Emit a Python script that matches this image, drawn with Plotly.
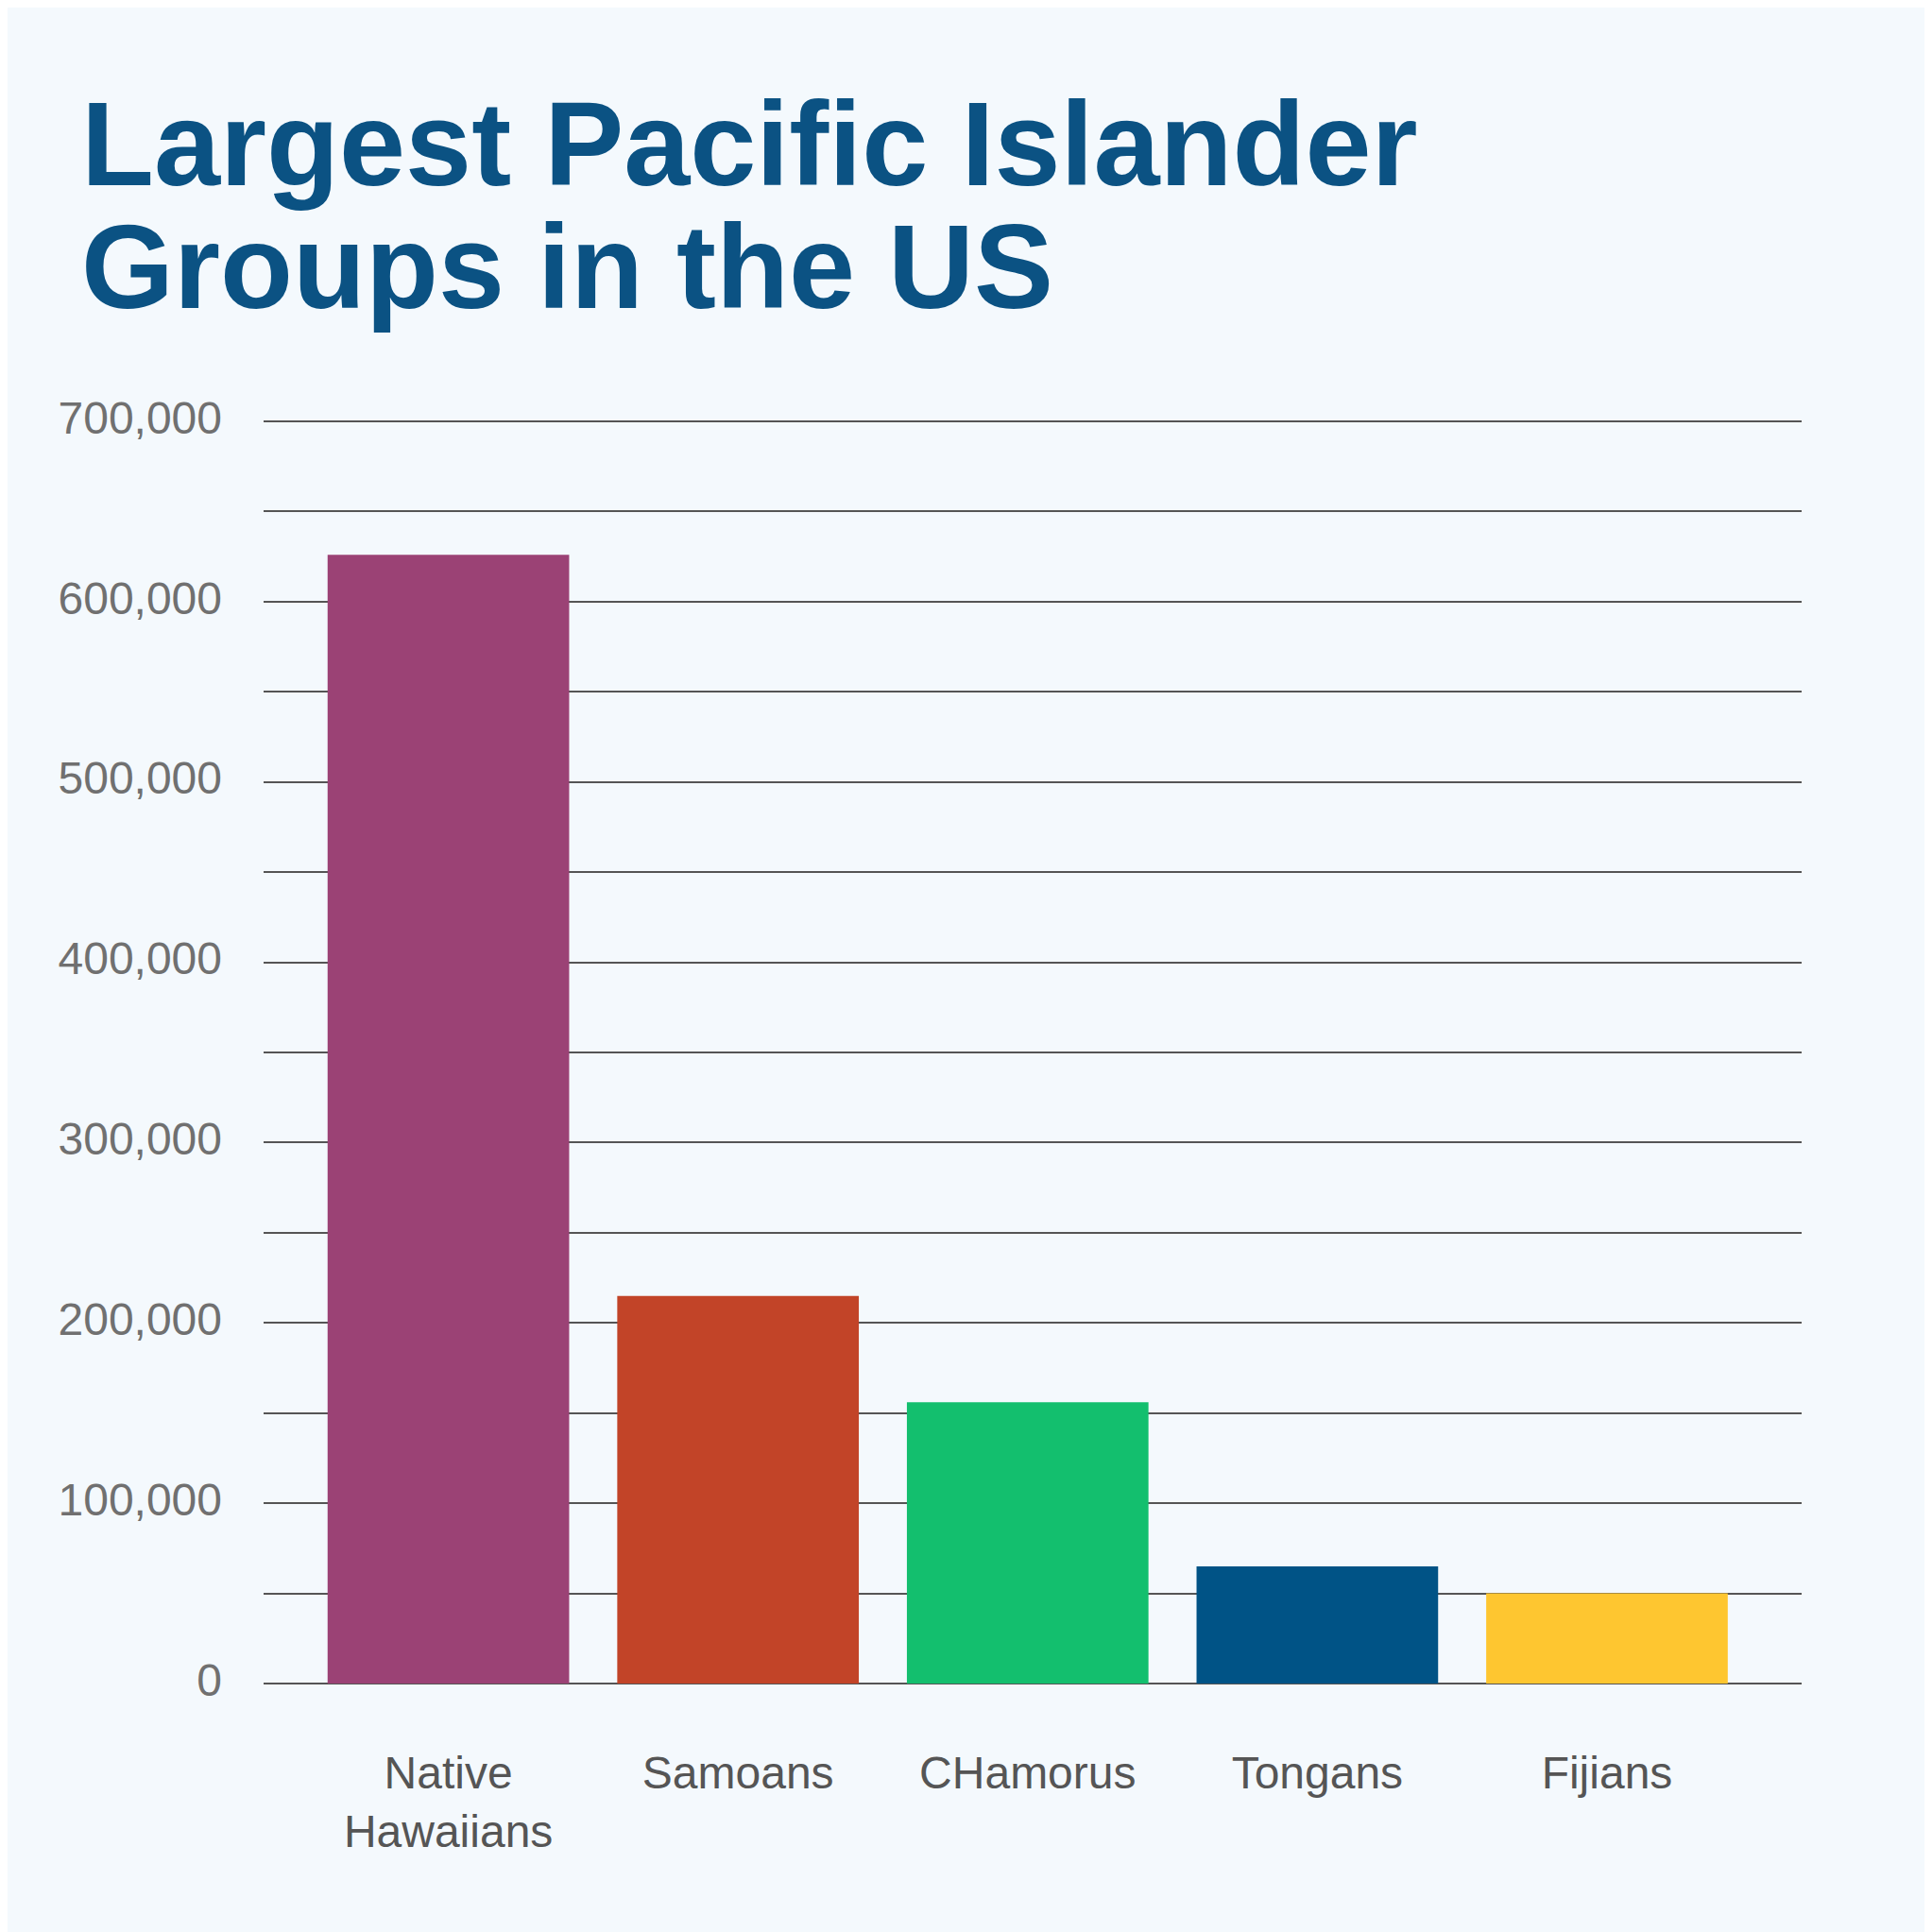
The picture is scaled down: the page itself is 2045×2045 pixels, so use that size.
import plotly.graph_objects as go

categories = ["Native<br>Hawaiians", "Samoans", "CHamorus", "Tongans", "Fijians"]
values = [626000, 215000, 156000, 65000, 50000]
colors = ["#9b4275", "#c24428", "#13bf6e", "#005386", "#fec630"]
tick_vals = [0, 100000, 200000, 300000, 400000, 500000, 600000, 700000]
tick_text = ["0", "100,000", "200,000", "300,000", "400,000", "500,000", "600,000", "700,000"]
title_lines = ["Largest Pacific Islander", "Groups in the US"]

bg = "#f4f9fd"
fig = go.Figure(go.Bar(x=list(range(len(categories))), y=values, marker_color=colors,
                       marker_line_width=0))
fig.update_layout(
    width=2045, height=2045, paper_bgcolor=bg, plot_bgcolor=bg,
    margin=dict(l=271, r=146, t=436, b=271),
    bargap=0.166, showlegend=False,
    font=dict(family="Liberation Sans, Arial, sans-serif"),
)
H = 2045 - 436 - 271
for i, line in enumerate(title_lines):
    top_px = 72 + i * 130
    fig.add_annotation(text="<b>%s</b>" % line, xref="paper", yref="paper",
                       x=-0.120, y=1 + (436 - top_px) / H, xanchor="left", yanchor="top",
                       showarrow=False, align="left",
                       font=dict(size=126, color="#0b5283", family="Liberation Sans, Arial, sans-serif"))
fig.update_xaxes(range=[-0.638, 4.672], tickvals=list(range(len(categories))), ticktext=categories,
                 showgrid=False, zeroline=False, ticks="", ticklabelstandoff=62,
                 tickfont=dict(size=48, color="#555555"))
fig.update_yaxes(range=[0, 701000], tickvals=tick_vals, ticktext=tick_text,
                 showgrid=True, gridcolor="#555555", gridwidth=1.5,
                 minor=dict(dtick=50000, showgrid=True, gridcolor="#555555", gridwidth=1.5),
                 zeroline=True, zerolinecolor="#555555", zerolinewidth=1.5,
                 ticks="", ticklabelstandoff=43, ticklabelshift=-4,
                 tickfont=dict(size=48, color="#707070"))
fig.write_html("out.html")
